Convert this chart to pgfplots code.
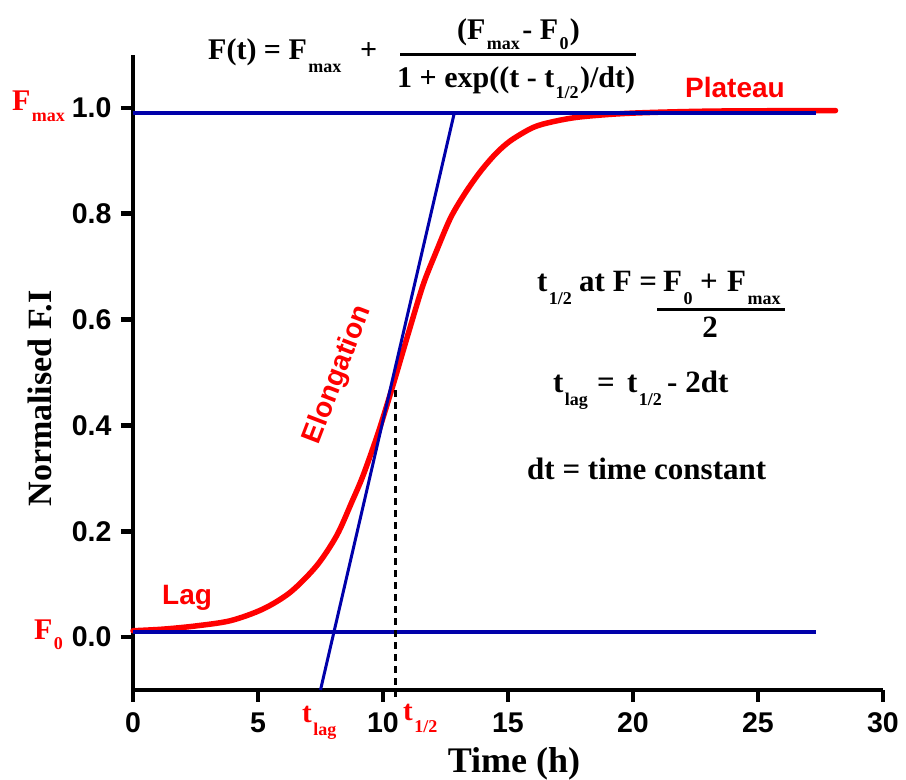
\documentclass[border=0pt]{standalone}
\usepackage{pgfplots}
\pgfplotsset{compat=1.18}
\usepackage{fontspec}
\setmainfont{Liberation Serif}
\setsansfont{Liberation Sans}
\definecolor{myblue}{RGB}{0,0,170}
\definecolor{myred}{RGB}{255,0,0}
\newcommand{\fs}[1]{\fontsize{#1}{#1}\selectfont}
\pgfplotstableread{
x y
0.0 0.012
1.2 0.015
2.5 0.021
3.9 0.031
5.2 0.053
6.3 0.085
7.35 0.135
8.15 0.192
8.75 0.255
9.2 0.305
9.8 0.385
10.4 0.476
11.0 0.572
11.6 0.665
12.1 0.725
12.7 0.792
13.3 0.840
13.9 0.880
14.5 0.913
15.1 0.938
16.0 0.963
16.8 0.974
17.9 0.983
19.9 0.990
23.2 0.994
28.1 0.995
}\curve
\begin{document}
\begin{tikzpicture}[x=1pt,y=1pt]
\useasboundingbox (-133,-90) rectangle (773,690);
\begin{axis}[
  at={(0,0)}, anchor=south west, scale only axis,
  width=750pt, height=635pt,
  xmin=0, xmax=30, ymin=-0.1, ymax=1.1,
  axis x line*=bottom, axis y line*=left,
  axis line style={line width=4.5pt, black},
  xtick={0,5,10,15,20,25,30},
  ytick={0,0.2,0.4,0.6,0.8,1.0},
  tick align=outside, major tick length=12pt,
  tick style={line width=4.5pt, black},
  yticklabel style={/pgf/number format/.cd, fixed, fixed zerofill, precision=1, assume math mode=true, /tikz/xshift=-6pt},
  xticklabel style={/pgf/number format/assume math mode=true, yshift=-7pt},
  ticklabel style={font=\fs{28.5}\sffamily\bfseries},
  xlabel={Time (h)},
  xlabel style={font=\fs{36}\bfseries, at={(axis description cs:0.508,0)}, anchor=base, yshift=-82pt},
  ylabel={Normalised F.I},
  ylabel style={font=\fs{34}\bfseries, at={(axis description cs:-0.124,0.459)}, anchor=center},
  clip=false,
]
\addplot[myred, line width=5.5pt, smooth, line cap=round] table[x=x,y=y] {\curve};
\addplot[myblue, line width=3.5pt] coordinates {(0,0.01) (27.3,0.01)};
\addplot[myblue, line width=3.5pt] coordinates {(0,0.99) (27.3,0.99)};
\addplot[myblue, line width=3pt] coordinates {(7.5,-0.1) (12.85,0.99)};
\addplot[black, line width=2.5pt, dash pattern=on 7pt off 5pt] coordinates {(10.5,-0.113) (10.5,0.47)};
\end{axis}
\begin{scope}[every node/.style={inner sep=0pt, font=\fs{30}\bfseries},
  sub/.style={anchor=base west, font=\fs{18}\bfseries}]
% top formula
\node[anchor=base west] (a1) at (208-133,690-60) {F(t) = F};
\node[sub] at ([xshift=1pt,yshift=-13pt]a1.base east) {max};
\node[anchor=base west] at (360-133,690-60) {+};
\node[anchor=base west] (b1) at (457-133,690-40) {(F};
\node[sub] (b2) at ([xshift=1pt,yshift=-10pt]b1.base east) {max};
\node[anchor=base west] (b3) at ([xshift=2pt]b2.base east |- b1.base) {- F};
\node[sub] (b4) at ([xshift=1pt,yshift=-10pt]b3.base east) {0};
\node[anchor=base west] at ([xshift=1pt]b4.base east |- b1.base) {)};
\draw[line width=3pt] (400-133,690-55) -- (636-133,690-55);
\node[anchor=base west] (c1) at (397-133,690-88) {1 + exp((t - t};
\node[sub] (c2) at ([xshift=1pt,yshift=-11pt]c1.base east) {1/2};
\node[anchor=base west] at ([xshift=1pt]c2.base east |- c1.base) {)/dt)};
% right block
\begin{scope}[every node/.style={inner sep=0pt, font=\fs{31}\bfseries}]
\node[anchor=base west] (d1) at (537-133,690-292) {t};
\node[sub] at ([xshift=1pt,yshift=-13pt]d1.base east) {1/2};
\node[anchor=base west] at (579-133,690-292) {at F =};
\node[anchor=base west] (e1) at (663-133,690-292) {F};
\node[sub] at ([xshift=1pt,yshift=-13pt]e1.base east) {0};
\node[anchor=base west] at (700-133,690-292) {+};
\node[anchor=base west] (e2) at (727-133,690-292) {F};
\node[sub] at ([xshift=1pt,yshift=-13pt]e2.base east) {max};
\draw[line width=3pt] (657-133,690-310) -- (785-133,690-310);
\node[anchor=base] at (710-133,690-338) {2};
\node[anchor=base west] (f1) at (553-133,690-393) {t};
\node[sub] at ([xshift=1pt,yshift=-13pt]f1.base east) {lag};
\node[anchor=base west] at (597-133,690-393) {=};
\node[anchor=base west] (f2) at (627-133,690-393) {t};
\node[sub] at ([xshift=1pt,yshift=-13pt]f2.base east) {1/2};
\node[anchor=base west] at (667-133,690-393) {- 2dt};
\node[anchor=base west] at (527-133,690-480) {dt = time constant};
\end{scope}
% red labels
\node[anchor=base west, text=myred, font=\fs{28}\sffamily\bfseries] at (685-133,690-98) {Plateau};
\node[anchor=base west, text=myred, font=\fs{28}\sffamily\bfseries] at (162-133,690-605) {Lag};
\node[anchor=center, rotate=69, text=myred, font=\fs{28}\sffamily\bfseries] at (338-133,690-375) {Elongation};
\node[anchor=base west, text=myred, font=\fs{30}\bfseries] (g1) at (12-133,690-111) {F};
\node[sub, text=myred] at ([xshift=1pt,yshift=-11pt]g1.base east) {max};
\node[anchor=base west, text=myred, font=\fs{30}\bfseries] (g2) at (34-133,690-640) {F};
\node[sub, text=myred] at ([xshift=1pt,yshift=-10pt]g2.base east) {0};
\node[anchor=base west, text=myred, font=\fs{29}\bfseries] (h1) at (302-133,690-722) {t};
\node[sub, text=myred] at ([xshift=1pt,yshift=-13pt]h1.base east) {lag};
\node[anchor=base west, text=myred, font=\fs{29}\bfseries] (h2) at (403-133,690-720) {t};
\node[sub, text=myred] at ([xshift=1pt,yshift=-12pt]h2.base east) {1/2};
\end{scope}
\end{tikzpicture}
\end{document}
